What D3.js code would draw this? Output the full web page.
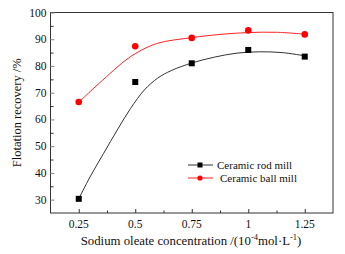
<!DOCTYPE html>
<html>
<head>
<meta charset="utf-8">
<script src="https://cdn.jsdelivr.net/npm/d3@7"></script>
<style>
  body { margin: 0; background: #fff; }
</style>
</head>
<body>
<div id="chart"></div>
<script>
// Measured points
const concentrations = [0.25, 0.5, 0.75, 1.0, 1.25];
const rodMill = [30.3, 74.0, 81.0, 86.0, 83.5];
const ballMill = [66.5, 87.4, 90.5, 93.3, 91.8];

// Fitted curves
const rodFitX = [0.25, 0.30, 0.36, 0.42, 0.48, 0.54, 0.60, 0.66, 0.75, 0.85, 0.95, 1.05, 1.15, 1.25];
const rodFitY = [30.3, 38.5, 47.3, 56.0, 64.2, 71.0, 75.5, 78.3, 81.1, 83.3, 84.8, 85.3, 85.0, 83.8];
const ballFitX = [0.25, 0.30, 0.373, 0.44, 0.5, 0.595, 0.75, 0.875, 1.0, 1.125, 1.25];
const ballFitY = [66.4, 70.4, 76.0, 81.0, 84.6, 88.4, 90.6, 91.8, 92.5, 92.6, 91.9];

const xTicks = [0.25, 0.5, 0.75, 1, 1.25];
const xTickLabels = ["0.25", "0.5", "0.75", "1", "1.25"];
const yTicks = [30, 40, 50, 60, 70, 80, 90, 100];
const seriesNames = ["Ceramic rod mill", "Ceramic ball mill"];

const width = 345, height = 254;
const margin = { top: 12.5, right: 12, bottom: 41, left: 50.5 };
const serif = "'Liberation Serif', 'DejaVu Serif', 'Times New Roman', serif";

const svg = d3.select("#chart")
  .append("svg")
  .attr("width", width)
  .attr("height", height)
  .attr("font-family", serif)
  .style("font-family", serif);

const x = d3.scaleLinear()
  .domain([0.125, 1.375])
  .range([margin.left, width - margin.right]);

const y = d3.scaleLinear()
  .domain([25, 100])
  .range([height - margin.bottom, margin.top]);

// frame
svg.append("rect")
  .attr("x", margin.left)
  .attr("y", margin.top)
  .attr("width", width - margin.left - margin.right)
  .attr("height", height - margin.top - margin.bottom)
  .attr("fill", "none")
  .attr("stroke", "#333")
  .attr("stroke-width", 1);

// x axis, ticks pointing inward
svg.append("g")
  .attr("transform", `translate(0,${height - margin.bottom})`)
  .call(d3.axisTop(x).tickValues(xTicks).tickSize(4).tickFormat(""))
  .call(g => g.select(".domain").remove())
  .call(g => g.selectAll("line").attr("stroke", "#333"));

const xMinor = d3.range(0.375, 1.375, 0.25);
svg.append("g")
  .attr("transform", `translate(0,${height - margin.bottom})`)
  .call(d3.axisTop(x).tickValues(xMinor).tickSize(2.5).tickFormat(""))
  .call(g => g.select(".domain").remove())
  .call(g => g.selectAll("line").attr("stroke", "#333"));

svg.append("g")
  .selectAll("text")
  .data(xTicks)
  .enter()
  .append("text")
  .attr("x", d => x(d))
  .attr("y", height - margin.bottom + 15)
  .attr("text-anchor", "middle")
  .attr("font-family", serif)
  .style("font-size", "11.5px")
  .style("fill", "#111")
  .text((d, i) => xTickLabels[i]);

// y axis, ticks pointing inward
svg.append("g")
  .attr("transform", `translate(${margin.left},0)`)
  .call(d3.axisRight(y).tickValues(yTicks).tickSize(4).tickFormat(""))
  .call(g => g.select(".domain").remove())
  .call(g => g.selectAll("line").attr("stroke", "#888"));

svg.append("g")
  .attr("transform", `translate(${margin.left},0)`)
  .call(d3.axisRight(y).tickValues(d3.range(35, 100, 10)).tickSize(3).tickFormat(""))
  .call(g => g.select(".domain").remove())
  .call(g => g.selectAll("line").attr("stroke", "#333"));

svg.append("g")
  .selectAll("text")
  .data(yTicks)
  .enter()
  .append("text")
  .attr("x", margin.left - 4)
  .attr("y", d => y(d) + 4)
  .attr("text-anchor", "end")
  .attr("font-family", serif)
  .style("font-size", "11.5px")
  .style("fill", "#111")
  .text(d => d);

// axis titles
const xTitle = svg.append("text")
  .attr("x", 191)
  .attr("y", 245)
  .attr("text-anchor", "middle")
  .attr("font-family", serif)
  .style("font-size", "12.8px")
  .style("fill", "#111");
xTitle.append("tspan").text("Sodium oleate concentration /(10");
xTitle.append("tspan").attr("dy", -5).style("font-size", "8.5px").text("-4");
xTitle.append("tspan").attr("dy", 5).text("mol·L");
xTitle.append("tspan").attr("dy", -5).style("font-size", "8.5px").text("-1");
xTitle.append("tspan").attr("dy", 5).text(")");

svg.append("text")
  .attr("transform", `translate(21,${(margin.top + height - margin.bottom) / 2}) rotate(-90)`)
  .attr("text-anchor", "middle")
  .attr("font-family", serif)
  .style("font-size", "12.5px")
  .style("fill", "#111")
  .text("Flotation recovery /%");

// fitted curves
const line = d3.line()
  .x(d => x(d[0]))
  .y(d => y(d[1]))
  .curve(d3.curveCatmullRom);

svg.append("path")
  .datum(rodFitX.map((v, i) => [v, rodFitY[i]]))
  .attr("d", line)
  .attr("fill", "none")
  .attr("stroke", "#333")
  .attr("stroke-width", 1);

svg.append("path")
  .datum(ballFitX.map((v, i) => [v, ballFitY[i]]))
  .attr("d", line)
  .attr("fill", "none")
  .attr("stroke", "#f22")
  .attr("stroke-width", 1);

// markers
svg.append("g")
  .selectAll("rect")
  .data(concentrations)
  .enter()
  .append("rect")
  .attr("x", d => x(d) - 3)
  .attr("y", (d, i) => y(rodMill[i]) - 3)
  .attr("width", 6)
  .attr("height", 6)
  .attr("fill", "#000");

svg.append("g")
  .selectAll("circle")
  .data(concentrations)
  .enter()
  .append("circle")
  .attr("cx", d => x(d))
  .attr("cy", (d, i) => y(ballMill[i]))
  .attr("r", 3.3)
  .attr("fill", "#f00");

// legend
const legend = svg.append("g");
const legendRows = [
  { name: seriesNames[0], color: "#333", y: 165, shape: "rect" },
  { name: seriesNames[1], color: "#f22", y: 178, shape: "circle" }
];
legendRows.forEach(r => {
  legend.append("line")
    .attr("x1", 188).attr("x2", 213)
    .attr("y1", r.y).attr("y2", r.y)
    .attr("stroke", r.color)
    .attr("stroke-width", 1);
  if (r.shape === "rect") {
    legend.append("rect")
      .attr("x", 197.5).attr("y", r.y - 2.5)
      .attr("width", 5).attr("height", 5)
      .attr("fill", "#000");
  } else {
    legend.append("circle")
      .attr("cx", 200).attr("cy", r.y)
      .attr("r", 2.6)
      .attr("fill", "#f00");
  }
  legend.append("text")
    .attr("x", r.shape === "rect" ? 217 : 220)
    .attr("y", r.y + 3.5)
    .attr("font-family", serif)
    .style("font-size", "11px")
    .style("fill", "#111")
    .text(r.name);
});
</script>
</body>
</html>
